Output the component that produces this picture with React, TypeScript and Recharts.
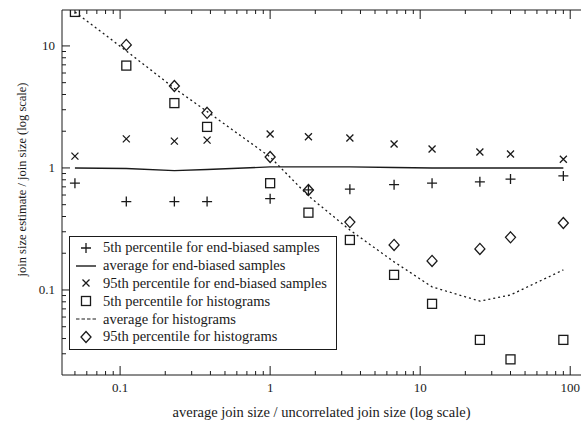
import React from "react";
import { ComposedChart, Legend, Line, Scatter, XAxis, YAxis } from "recharts";

// average join size / uncorrelated join size
const joinRatio = [0.05, 0.11, 0.23, 0.38, 1.0, 1.8, 3.4, 6.7, 12, 25, 40, 90];

// estimate / true join size
const p5EndBiased = [0.75, 0.53, 0.53, 0.53, 0.56, 0.66, 0.67, 0.73, 0.75, 0.77, 0.81, 0.86];
const avgEndBiased = [1.0, 0.99, 0.95, 0.97, 1.02, 1.02, 1.02, 1.01, 1.0, 1.0, 1.0, 1.0];
const p95EndBiased = [1.25, 1.73, 1.66, 1.69, 1.9, 1.8, 1.76, 1.57, 1.43, 1.35, 1.3, 1.18];
const p5Hist = [19, 6.9, 3.4, 2.17, 0.75, 0.43, 0.257, 0.133, 0.077, 0.039, 0.027, 0.039];
const avgHist = [19, 9.1, 4.5, 2.9, 1.23, 0.59, 0.31, 0.17, 0.106, 0.081, 0.091, 0.146];
const p95Hist = [null, 10.2, 4.7, 2.83, 1.23, 0.66, 0.36, 0.234, 0.173, 0.217, 0.27, 0.354];

const xDecades = [0.1, 1, 10, 100];
const yDecades = [0.1, 1, 10];

const X_DOMAIN: [number, number] = [0.041, 118];
const Y_DOMAIN: [number, number] = [0.0201, 19.7];

const INK = "#1a1a1a";
const FONT = '"Liberation Serif", "Times New Roman", serif';

const rows = joinRatio.map((x, i) => ({
  x,
  p5EndBiased: p5EndBiased[i],
  avgEndBiased: avgEndBiased[i],
  p95EndBiased: p95EndBiased[i],
  p5Hist: p5Hist[i],
  avgHist: avgHist[i],
  p95Hist: p95Hist[i],
}));

// 1..9 times each power of ten that falls inside the domain
const logTicks = (lo: number, hi: number) => {
  const out: number[] = [];
  for (let e = -3; e <= 3; e++) {
    for (let m = 1; m <= 9; m++) {
      const v = Number((m * 10 ** e).toPrecision(6));
      if (v >= lo && v <= hi) out.push(v);
    }
  }
  return out;
};

const isDecade = (v: number) => Math.abs(Math.log10(v) - Math.round(Math.log10(v))) < 1e-9;

const BottomTick = ({ x, y, payload }: any) => {
  const v = payload.value;
  const major = isDecade(v);
  return (
    <g>
      <line x1={x} x2={x} y1={y} y2={y - (major ? 9 : 4)} stroke={INK} />
      {major && xDecades.includes(v) && (
        <text x={x} y={y + 17} textAnchor="middle" fontSize={13} fontFamily={FONT} fill={INK}>
          {String(v)}
        </text>
      )}
    </g>
  );
};

const TopTick = ({ x, y, payload }: any) => (
  <line x1={x} x2={x} y1={y} y2={y + (isDecade(payload.value) ? 9 : 4)} stroke={INK} />
);

const LeftTick = ({ x, y, payload }: any) => {
  const v = payload.value;
  const major = isDecade(v);
  return (
    <g>
      <line x1={x} x2={x + (major ? 8 : 4)} y1={y} y2={y} stroke={INK} />
      {major && yDecades.includes(v) && (
        <text x={x - 7} y={y + 4.5} textAnchor="end" fontSize={13} fontFamily={FONT} fill={INK}>
          {String(v)}
        </text>
      )}
    </g>
  );
};

const RightTick = ({ x, y, payload }: any) => (
  <line x1={x} x2={x - (isDecade(payload.value) ? 8 : 4)} y1={y} y2={y} stroke={INK} />
);

type MarkKind = "plus" | "cross" | "square" | "diamond" | "solid" | "dashed";

const drawMark = (kind: MarkKind, cx: number, cy: number) => {
  const common = { stroke: INK, strokeWidth: 1.3, fill: "none" };
  switch (kind) {
    case "plus":
      return <path d={`M${cx - 5},${cy}H${cx + 5}M${cx},${cy - 5}V${cy + 5}`} {...common} />;
    case "cross":
      return <path d={`M${cx - 3.5},${cy - 3.5}L${cx + 3.5},${cy + 3.5}M${cx - 3.5},${cy + 3.5}L${cx + 3.5},${cy - 3.5}`} {...common} />;
    case "square":
      return <rect x={cx - 4.5} y={cy - 4.5} width={9} height={9} {...common} />;
    case "diamond":
      return <path d={`M${cx},${cy - 5.5}L${cx + 5},${cy}L${cx},${cy + 5.5}L${cx - 5},${cy}Z`} {...common} />;
    case "solid":
      return <path d={`M${cx - 10},${cy}H${cx + 10}`} stroke={INK} strokeWidth={1.4} />;
    default:
      return <path d={`M${cx - 10},${cy}H${cx + 10}`} stroke={INK} strokeWidth={1.2} strokeDasharray="3.5 2" />;
  }
};

const markShape = (kind: MarkKind) => (props: any) => {
  const { cx, cy } = props;
  if (!Number.isFinite(cx) || !Number.isFinite(cy)) return <g />;
  return drawMark(kind, cx, cy);
};

const legendItems: { label: string; kind: MarkKind }[] = [
  { label: "5th percentile for end-biased samples", kind: "plus" },
  { label: "average for end-biased samples", kind: "solid" },
  { label: "95th percentile for end-biased samples", kind: "cross" },
  { label: "5th percentile for histograms", kind: "square" },
  { label: "average for histograms", kind: "dashed" },
  { label: "95th percentile for histograms", kind: "diamond" },
];

const LegendBox = () => (
  <div
    style={{
      boxSizing: "border-box",
      width: 268,
      height: 114,
      border: `1px solid ${INK}`,
      background: "#fff",
      paddingTop: 2,
    }}
  >
    {legendItems.map((item) => (
      <div key={item.label} style={{ display: "flex", alignItems: "center", height: 17.8 }}>
        <svg width={33} height={14} style={{ flex: "none" }}>
          {drawMark(item.kind, 16, 7)}
        </svg>
        <span style={{ fontFamily: FONT, fontSize: 14.5, lineHeight: "17px", color: INK, whiteSpace: "nowrap" }}>
          {item.label}
        </span>
      </div>
    ))}
  </div>
);

const xTicks = logTicks(X_DOMAIN[0], X_DOMAIN[1]);
const yTicks = logTicks(Y_DOMAIN[0], Y_DOMAIN[1]);

const YTitle = ({ viewBox }: any) => (
  <text
    transform={`translate(${viewBox.x + 22},${viewBox.y + viewBox.height / 2 - 13}) rotate(-90)`}
    textAnchor="middle"
    dominantBaseline="central"
    fontSize={12.5}
    fontFamily={FONT}
    fill={INK}
  >
    join size estimate / join size (log scale)
  </text>
);

export default function App() {
  return (
    <div style={{ position: "absolute", left: 0, top: 0, background: "#fff" }}>
      <ComposedChart width={581} height={425} data={rows} margin={{ top: 0, right: 0, bottom: 0, left: 0 }}>
        <XAxis
          dataKey="x"
          type="number"
          scale="log"
          domain={X_DOMAIN}
          allowDataOverflow
          ticks={xTicks}
          interval={0}
          tick={BottomTick}
          tickLine={false}
          tickSize={0}
          tickMargin={0}
          axisLine={{ stroke: INK }}
          height={50}
          label={{
            value: "average join size / uncorrelated join size (log scale)",
            position: "insideBottom",
            offset: 8,
            fontSize: 14.5,
            fontFamily: FONT,
            fill: INK,
          }}
        />
        <XAxis
          xAxisId="top"
          orientation="top"
          dataKey="x"
          type="number"
          scale="log"
          domain={X_DOMAIN}
          allowDataOverflow
          ticks={xTicks}
          interval={0}
          tick={TopTick}
          tickLine={false}
          tickSize={0}
          tickMargin={0}
          axisLine={{ stroke: INK }}
          height={10}
        />
        <YAxis
          type="number"
          scale="log"
          domain={Y_DOMAIN}
          allowDataOverflow
          ticks={yTicks}
          interval={0}
          tick={LeftTick}
          tickLine={false}
          tickSize={0}
          tickMargin={0}
          axisLine={{ stroke: INK }}
          width={62}
          label={<YTitle />}
        />
        <YAxis
          yAxisId="right"
          orientation="right"
          type="number"
          scale="log"
          domain={Y_DOMAIN}
          allowDataOverflow
          ticks={yTicks}
          interval={0}
          tick={RightTick}
          tickLine={false}
          tickSize={0}
          tickMargin={0}
          axisLine={false}
          width={0}
        />
        <Legend
          layout="vertical"
          align="center"
          verticalAlign="middle"
          wrapperStyle={{ left: 69, top: 236, width: 268, height: 114 }}
          content={<LegendBox />}
        />
        <Line dataKey="avgEndBiased" type="linear" stroke={INK} strokeWidth={1.4} dot={false} isAnimationActive={false} />
        <Line
          dataKey="avgHist"
          type="linear"
          stroke={INK}
          strokeWidth={1.3}
          strokeDasharray="2 3"
          dot={false}
          isAnimationActive={false}
        />
        <Scatter dataKey="p5EndBiased" shape={markShape("plus")} isAnimationActive={false} />
        <Scatter dataKey="p95EndBiased" shape={markShape("cross")} isAnimationActive={false} />
        <Scatter dataKey="p5Hist" shape={markShape("square")} isAnimationActive={false} />
        <Scatter dataKey="p95Hist" shape={markShape("diamond")} isAnimationActive={false} />
      </ComposedChart>
    </div>
  );
}
